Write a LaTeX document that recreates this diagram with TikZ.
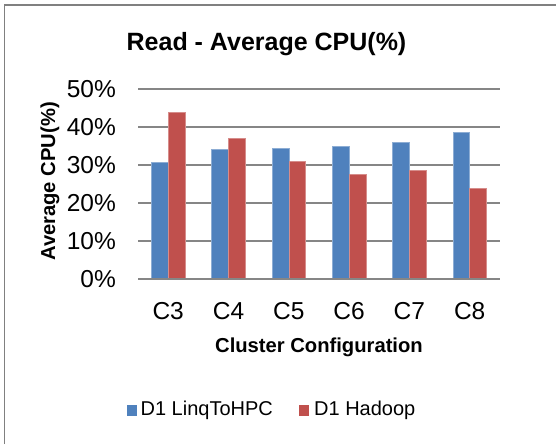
\documentclass[tikz,border=0pt]{standalone}
\usepackage{fontspec}
\setmainfont{Liberation Sans}
\usetikzlibrary{positioning}
\definecolor{barblue}{RGB}{79, 129, 189}
\definecolor{barred}{RGB}{192, 80, 77}
\definecolor{gridgray}{RGB}{134, 134, 134}
\definecolor{framegray}{RGB}{128, 128, 128}
\tikzset{
    gridline/.style={draw=gridgray, line width=1.4pt},
    bluebar/.style={fill=barblue, draw=white!35!barblue, line width=0.6pt},
    redbar/.style={fill=barred, draw=white!35!barred, line width=0.6pt},
    ticklabel/.style={font=\fontsize{24.5}{28}\selectfont, inner sep=0pt},
    charttitle/.style={font=\fontsize{25}{29}\selectfont\bfseries, inner sep=0pt},
    axistitle/.style={font=\fontsize{20.2}{24}\selectfont\bfseries, inner sep=0pt},
    legendkey/.style={rectangle, minimum width=10pt, minimum height=11pt, inner sep=0pt},
    legendtext/.style={font=\fontsize{20}{24}\selectfont, inner sep=0pt}
}

\begin{document}
\begin{tikzpicture}[x=1pt, y=-1pt]
            \useasboundingbox (0,0) rectangle (556,444);
            \fill[white] (0,0) rectangle (556,444);
            \draw[framegray, line width=1.5pt] (4.5,444) |- (556,5);

            \foreach \k in {0,...,5} {
                \draw[gridline] (138,{279-38*\k}) -- (500,{279-38*\k});
                \node (ytick\k) [ticklabel, anchor=base east] at (116,{287.6-38*\k}) {\pgfmathtruncatemacro{\pct}{10*\k}\pct\%};
            }

            \foreach \cname/\vblue/\vred [count=\i from 0] in {C3/30.7/43.9, C4/34.2/36.9, C5/34.4/31.1, C6/34.9/27.5, C7/36.0/28.7, C8/38.6/23.9} {
                \fill[bluebar] ({168.2+60.3*\i-16.8},279) rectangle ({168.2+60.3*\i},{279-3.8*\vblue});
                \fill[redbar] ({168.2+60.3*\i},279) rectangle ({168.2+60.3*\i+16.8},{279-3.8*\vred});
                \node (cat\i) [ticklabel, anchor=base] at ({168.2+60.3*\i},319) {\cname};
            }
            \draw[gridline] (138,279) -- (500,279);

            \node (title) [charttitle, anchor=base] at (266.5,50.7) {Read - Average CPU(\%)};
            \node (xtitle) [axistitle, anchor=base] at (319,352.7) {Cluster Configuration};
            \node (ytitle) [axistitle, anchor=base, rotate=90] at (55,181.5) {Average CPU(\%)};

            \node (bluekey) [legendkey, fill=barblue] at (131.7,410.5) {};
            \node (bluetext) [legendtext, right=3.5pt of bluekey] {D1 LinqToHPC};
            \node (redkey) [legendkey, fill=barred] at (304.3,410.5) {};
            \node (redtext) [legendtext, right=4.5pt of redkey] {D1 Hadoop};
        \end{tikzpicture}
\end{document}
